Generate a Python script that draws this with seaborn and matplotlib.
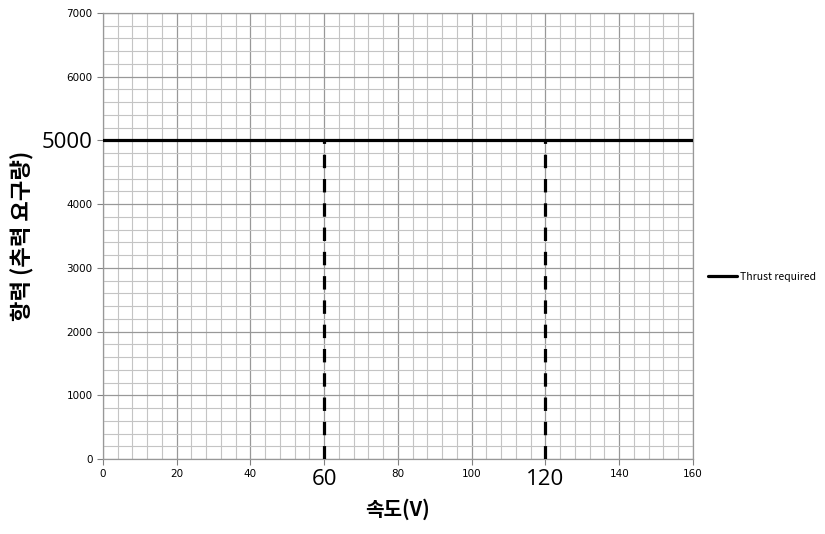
import numpy as np
import pandas as pd
import seaborn as sns
import matplotlib.pyplot as plt
from matplotlib.ticker import MultipleLocator

speed = [0, 160]
thrust = [5000, 5000]
marked_speeds = [60, 120]
thrust_level = 5000
x_ticks = [0, 20, 40, 60, 80, 100, 120, 140, 160]
y_ticks = [0, 1000, 2000, 3000, 4000, 5000, 6000, 7000]
big_x = ['60', '120']
big_y = ['5000']

df = pd.DataFrame({'speed': speed, 'thrust': thrust, 'series': 'Thrust required'})

sns.set_style('white')
plt.rcParams['font.family'] = ['Noto Sans CJK KR', 'DejaVu Sans']
plt.rcParams['text.color'] = 'black'
plt.rcParams['axes.labelcolor'] = 'black'
plt.rcParams['xtick.color'] = 'black'
plt.rcParams['ytick.color'] = 'black'

fig = plt.figure(figsize=(8.25, 5.34), dpi=100)
ax = fig.add_axes([0.1248, 0.1404, 0.7152, 0.8353])

# grid
ax.xaxis.set_minor_locator(MultipleLocator(4))
ax.yaxis.set_minor_locator(MultipleLocator(200))
ax.grid(which='minor', color='#c4c4c4', linewidth=0.8, zorder=0)
ax.grid(which='major', color='#989898', linewidth=0.9, zorder=0)
ax.set_axisbelow(True)

sns.lineplot(data=df, x='speed', y='thrust', hue='series', palette=['black'],
             linewidth=2.3, ax=ax, zorder=3)
ax.vlines(marked_speeds, 0, thrust_level, colors='black', linestyles=(0, (4.2, 3.4)),
          linewidth=2.3, zorder=3)

ax.set_xlim(0, 160)
ax.set_ylim(0, 7000)
ax.set_xticks(x_ticks, [str(t) for t in x_ticks])
ax.set_yticks(y_ticks, [str(t) for t in y_ticks])
ax.tick_params(axis='both', which='major', length=4, color='#808080', labelsize=7.5,
               left=True, bottom=True, direction='out', labelcolor='black')
ax.tick_params(which='minor', length=0)
for lbl in ax.get_xticklabels():
    lbl.set_family(['DejaVu Sans'])
    if lbl.get_text() in big_x:
        lbl.set_fontsize(16)
        lbl.set_family(['Open Sans', 'DejaVu Sans'])
for lbl in ax.get_yticklabels():
    lbl.set_family(['DejaVu Sans'])
    if lbl.get_text() in big_y:
        lbl.set_fontsize(16)
        lbl.set_family(['Open Sans', 'DejaVu Sans'])

for s in ax.spines.values():
    s.set_color('#989898')
    s.set_linewidth(0.9)

ax.set_xlabel('속도(V)', fontsize=14.5, fontweight='bold', labelpad=6)
ax.set_ylabel('항력 (추력 요구량)', fontsize=16, fontweight='bold', labelpad=5)

ax.legend(loc='center left', bbox_to_anchor=(1.01, 0.408), frameon=False,
          fontsize=7.5, handlelength=2.8, handletextpad=0.2)

fig.savefig('out.png', dpi=100)
